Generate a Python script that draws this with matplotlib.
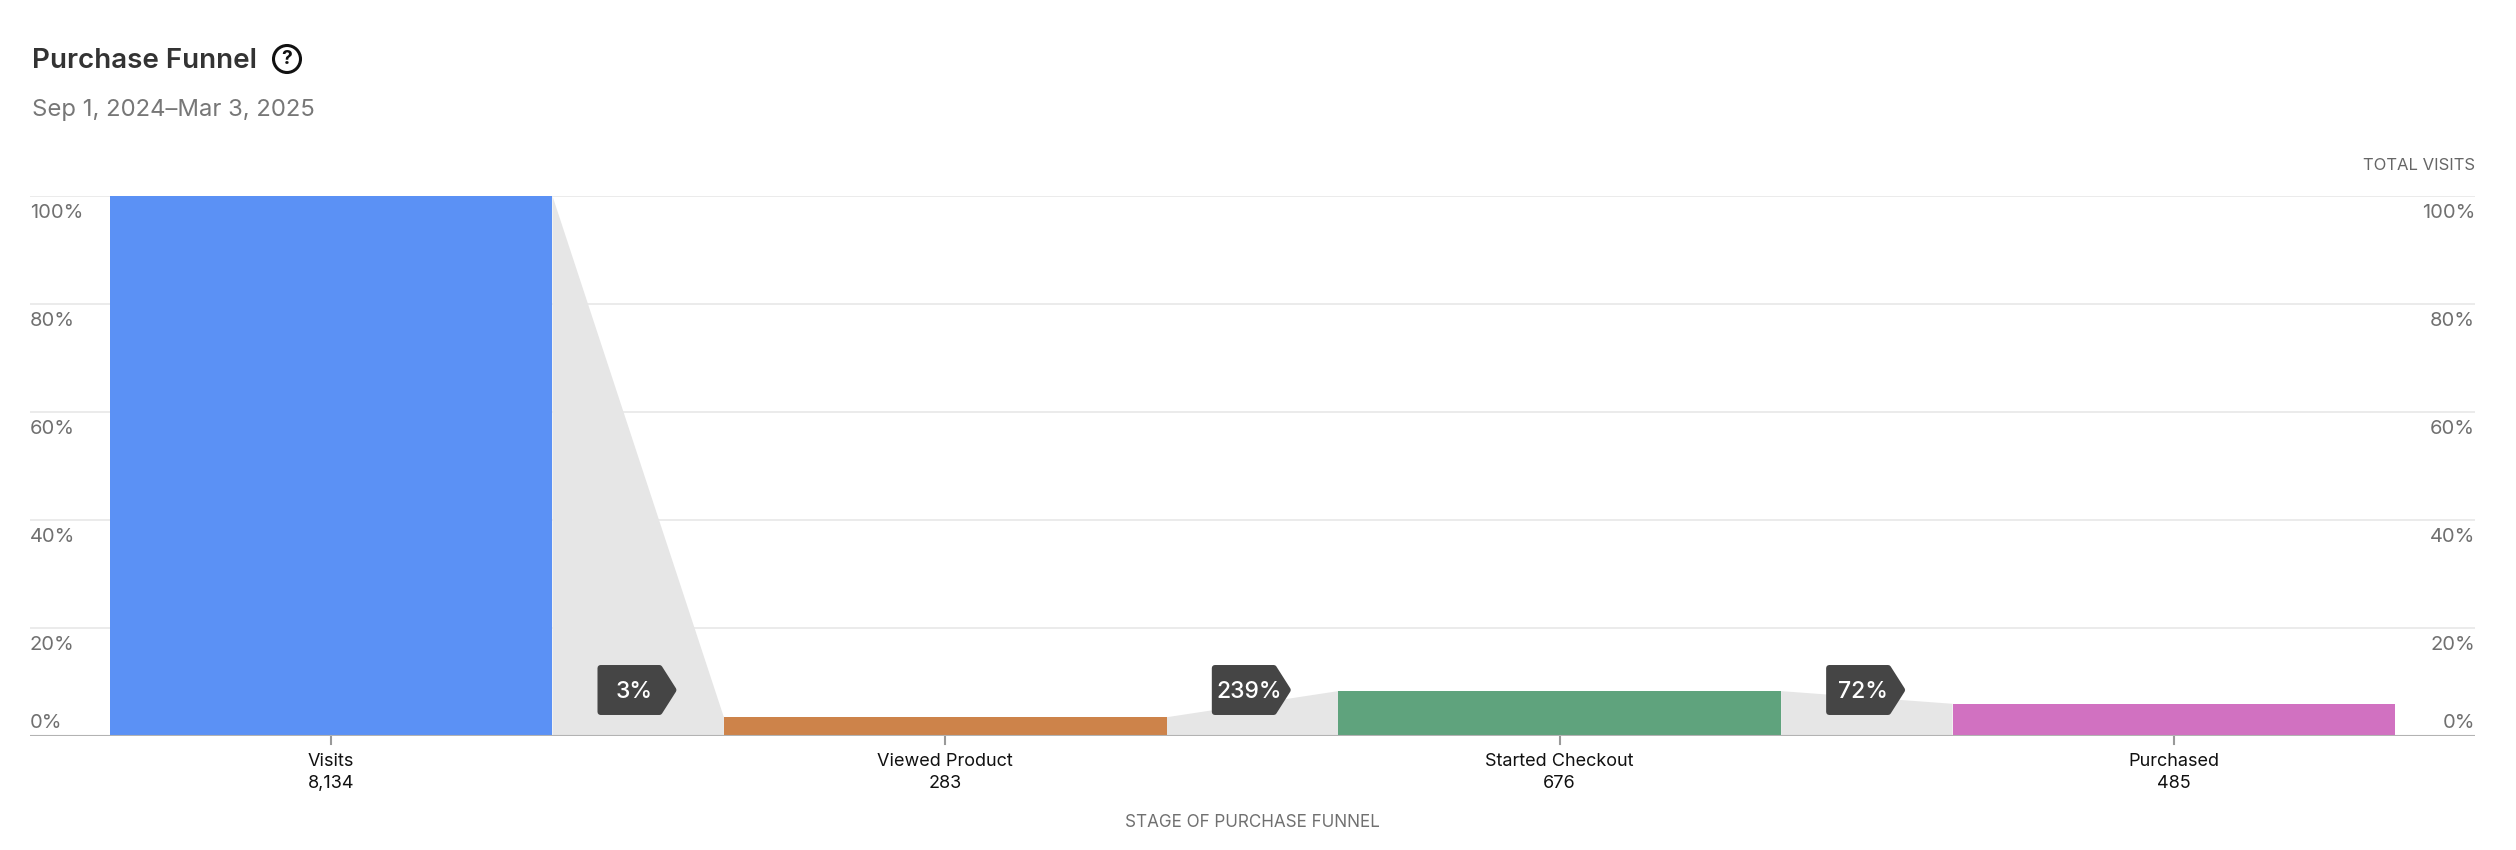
import matplotlib
matplotlib.use("Agg")
import matplotlib.pyplot as plt
from matplotlib.patches import Polygon, Circle

plt.rcParams['font.family'] = ['Inter', 'DejaVu Sans']

stages = ["Visits", "Viewed Product", "Started Checkout", "Purchased"]
counts = [8134, 283, 676, 485]
colors = ["#5B91F5", "#CD834A", "#5FA37D", "#D171C1"]
yticks = [0, 20, 40, 60, 80, 100]

pct = [c / counts[0] * 100 for c in counts]
step = [counts[i + 1] / counts[i] * 100 for i in range(len(counts) - 1)]

W, H = 2516, 850
fig = plt.figure(figsize=(W / 100, H / 100), dpi=100)
ax = fig.add_axes([30 / W, 114 / H, 2445 / W, 540 / H])
ax.set_xlim(-0.49, 3.49)
ax.set_ylim(0, 100)
ax.axis("off")

px_x = 3.98 / 2445   # data units per pixel
px_y = 100 / 540
bw = 0.721
xs = list(range(len(stages)))

# grid
for v in yticks[1:]:
    ax.axhline(v, color="#e6e6e6", lw=1.1, zorder=0)
ax.axhline(0, color="#b3b3b3", lw=1.5, zorder=5)

# connectors
for i in range(len(xs) - 1):
    x0 = xs[i] + bw / 2
    x1 = xs[i + 1] - bw / 2
    ax.add_patch(Polygon([[x0, 0], [x0, pct[i]], [x1, pct[i + 1]], [x1, 0]],
                         closed=True, fc="#e6e6e6", ec="none", zorder=1))

ax.bar(xs, pct, width=bw, color=colors, zorder=2)

# conversion badges
yb, yt = 21 * px_y, 71 * px_y
ym = (yb + yt) / 2
inset_x, inset_y = 3 * px_x, 3 * px_y
for i, s in enumerate(step):
    left = xs[i] + bw / 2 + 45 * px_x
    rect_r = left + 62 * px_x
    tip = left + 79 * px_x
    pts = [[left + inset_x, yb + inset_y], [rect_r, yb + inset_y],
           [tip - inset_x, ym], [rect_r, yt - inset_y],
           [left + inset_x, yt - inset_y]]
    ax.add_patch(Polygon(pts, closed=True, fc="#454545", ec="#454545",
                         lw=4.3, joinstyle="round", zorder=6))
    ax.text(left + 37 * px_x, ym - 8.5 * px_y, f"{s:.0f}%", color="white",
            fontsize=16.5, fontweight="medium", ha="center", va="baseline",
            zorder=7)

# y labels on both sides
for v in yticks:
    yy = 1.5 if v == 0 else v - 22 * px_y
    lab = f"{v}%"
    ax.text(-0.49, yy, lab, ha="left", va="baseline", fontsize=14.5,
            color="#707070")
    ax.text(3.49, yy, lab, ha="right", va="baseline", fontsize=14.5,
            color="#707070")
ax.text(3.49, 100 + 26 * px_y, "TOTAL VISITS", ha="right", va="baseline",
        fontsize=12, color="#666666", clip_on=False)

# x tick marks and labels
for x, name, c in zip(xs, stages, counts):
    ax.plot([x, x], [0, -8 * px_y], color="#999999", lw=1.5, clip_on=False)
    ax.text(x, -30 * px_y, name, ha="center", va="baseline", fontsize=13,
            color="#111111", clip_on=False)
    ax.text(x, -52 * px_y, f"{c:,}", ha="center", va="baseline", fontsize=13,
            color="#111111", clip_on=False)
ax.text(1.5, -91 * px_y, "STAGE OF PURCHASE FUNNEL", ha="center",
        va="baseline", fontsize=12.3, color="#707070", clip_on=False)

# header
fig.text(32 / W, 1 - 68 / H, "Purchase Funnel", fontsize=20,
         fontweight="semibold", color="#333333", va="baseline")
fig.text(32 / W, 1 - 116 / H, "Sep 1, 2024\u2013Mar 3, 2025", fontsize=17.2,
         color="#777777", va="baseline")
fig.patches.append(Circle((2.87, (H - 59) / 100), 0.135, fill=False,
                          ec="#111111", lw=2.2,
                          transform=fig.dpi_scale_trans))
fig.text(287 / W, 1 - 59 / H, "?", fontsize=14, fontweight="bold",
         color="#111111", ha="center", va="center")

fig.savefig("out.png", dpi=100, facecolor="white")
